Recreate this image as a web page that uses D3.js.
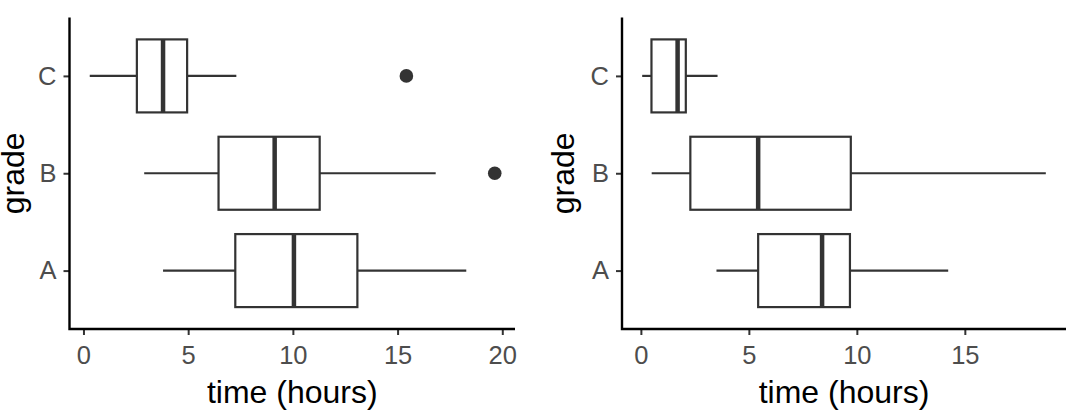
<!DOCTYPE html>
<html>
<head>
<meta charset="utf-8">
<script src="https://cdn.jsdelivr.net/npm/d3@7"></script>
<style>
  body { margin: 0; background: #fff; }
  svg { display: block; font-family: "Liberation Sans", Arial, sans-serif; }
</style>
</head>
<body>
<div id="chart"></div>
<script>
// grades shown on the y axis (bottom to top)
const grades = ["A", "B", "C"];

// left panel: five-number summaries per grade (whisker low, q1, median, q3, whisker high)
const leftLow    = [3.8, 2.9, 0.3];
const leftQ1     = [7.25, 6.45, 2.55];
const leftMedian = [10.05, 9.13, 3.8];
const leftQ3     = [13.08, 11.28, 4.95];
const leftHigh   = [18.28, 16.82, 7.3];
const leftOutliers = [{ grade: "B", value: 19.64 }, { grade: "C", value: 15.42 }];

// right panel
const rightLow    = [3.5, 0.5, 0.06];
const rightQ1     = [5.43, 2.29, 0.49];
const rightMedian = [8.39, 5.43, 1.7];
const rightQ3     = [9.68, 9.72, 2.08];
const rightHigh   = [14.23, 18.75, 3.55];
const rightOutliers = [];

const xTicksLeft = [0, 5, 10, 15, 20];
const xTicksRight = [0, 5, 10, 15];

const width = 1068, height = 411;
const svg = d3.select("#chart").append("svg")
  .attr("width", width)
  .attr("height", height);

const plotTop = 17.5, plotBottom = 329;
const ink = "#333333";

function buildRows(low, q1, med, q3, high) {
  return grades.map((g, i) => ({ grade: g, low: low[i], q1: q1[i], med: med[i], q3: q3[i], high: high[i] }));
}

function drawPanel(left, right, rows, outliers, ticks, titleOffset) {
  let g = svg.append("g");

  // ggplot style 5% expansion of the data range
  let vals = rows.flatMap(d => [d.low, d.high]).concat(outliers.map(d => d.value));
  let lo = d3.min(vals), hi = d3.max(vals);
  let pad = (hi - lo) * 0.05;
  let x = d3.scaleLinear().domain([lo - pad, hi + pad]).range([left, right]);

  // discrete y: positions 1..n with 0.6 expansion
  let yPos = d3.scaleLinear().domain([0.4, grades.length + 0.6]).range([plotBottom, plotTop]);
  let y = g => yPos(grades.indexOf(g) + 1);
  let half = yPos(0) - yPos(0.375);

  // whiskers
  g.selectAll(".whisk-lo").data(rows).enter().append("line")
    .attr("x1", d => x(d.low)).attr("x2", d => x(d.q1))
    .attr("y1", d => y(d.grade)).attr("y2", d => y(d.grade))
    .attr("stroke", ink).attr("stroke-width", 2.2);
  g.selectAll(".whisk-hi").data(rows).enter().append("line")
    .attr("x1", d => x(d.q3)).attr("x2", d => x(d.high))
    .attr("y1", d => y(d.grade)).attr("y2", d => y(d.grade))
    .attr("stroke", ink).attr("stroke-width", 2.2);

  // boxes
  g.selectAll(".box").data(rows).enter().append("rect")
    .attr("x", d => x(d.q1)).attr("width", d => x(d.q3) - x(d.q1))
    .attr("y", d => y(d.grade) - half).attr("height", half * 2)
    .attr("fill", "#fff").attr("stroke", ink).attr("stroke-width", 2.2);

  // medians
  g.selectAll(".med").data(rows).enter().append("line")
    .attr("x1", d => x(d.med)).attr("x2", d => x(d.med))
    .attr("y1", d => y(d.grade) - half).attr("y2", d => y(d.grade) + half)
    .attr("stroke", ink).attr("stroke-width", 4.5);

  // outliers
  g.selectAll(".out").data(outliers).enter().append("circle")
    .attr("cx", d => x(d.value)).attr("cy", d => y(d.grade))
    .attr("r", 6.8).attr("fill", ink);

  // x axis
  let xAxis = g.append("g").attr("transform", `translate(0,${plotBottom})`)
    .call(d3.axisBottom(x).tickValues(ticks).tickSize(6).tickPadding(11).tickSizeOuter(0));
  xAxis.select(".domain").remove();
  xAxis.selectAll(".tick line").attr("stroke", ink).attr("stroke-width", 2);
  xAxis.selectAll(".tick text").attr("fill", "#4d4d4d").style("font-size", "25.5px");

  // y axis
  let yAxis = g.append("g").attr("transform", `translate(${left},0)`)
    .call(d3.axisLeft(yPos).tickValues(grades.map((d, i) => i + 1)).tickFormat((d, i) => grades[i])
      .tickSize(6).tickPadding(7).tickSizeOuter(0));
  yAxis.select(".domain").remove();
  yAxis.selectAll(".tick line").attr("stroke", ink).attr("stroke-width", 2);
  yAxis.selectAll(".tick text").attr("fill", "#4d4d4d").style("font-size", "25.5px");

  // axis lines
  g.append("path")
    .attr("d", `M${left},${plotTop}V${plotBottom}H${right}`)
    .attr("fill", "none").attr("stroke", "#000").attr("stroke-width", 2.4);

  // titles
  g.append("text")
    .attr("x", (left + right) / 2).attr("y", 403)
    .attr("text-anchor", "middle").attr("fill", "#000")
    .style("font-size", "32px").text("time (hours)");
  g.append("text")
    .attr("transform", `translate(${left - titleOffset},${(plotTop + plotBottom) / 2}) rotate(-90)`)
    .attr("text-anchor", "middle").attr("fill", "#000")
    .style("font-size", "32px").text("grade");
}

drawPanel(69.5, 515, buildRows(leftLow, leftQ1, leftMedian, leftQ3, leftHigh), leftOutliers, xTicksLeft, 46);
drawPanel(622, 1066, buildRows(rightLow, rightQ1, rightMedian, rightQ3, rightHigh), rightOutliers, xTicksRight, 48);
</script>
</body>
</html>
